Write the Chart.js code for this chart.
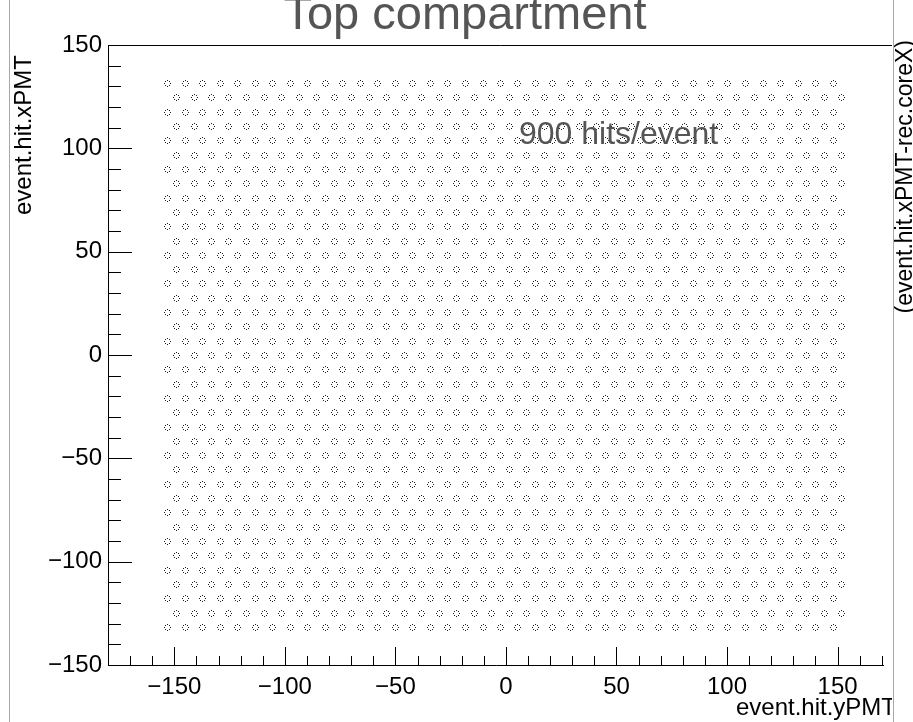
<!DOCTYPE html>
<html>
<head>
<meta charset="utf-8">
<script src="https://cdn.jsdelivr.net/npm/chart.js@4/dist/chart.umd.min.js"></script>
<style>
  html, body { margin: 0; padding: 0; background: #fff; }
  #wrap { width: 913px; height: 722px; position: relative; }
</style>
</head>
<body>
<div id="wrap"><canvas id="pmtChart"></canvas></div>
<script>
// PMT rows (event.hit.xPMT), top to bottom; even rows use columnsA, odd rows columnsB
const rowX = [131.6, 124.7, 117.8, 110.9, 103.9, 97.0, 90.1, 83.1, 76.2, 69.3,
  62.4, 55.4, 48.5, 41.6, 34.6, 27.7, 20.8, 13.9, 6.9, 0.0,
  -6.9, -13.9, -20.8, -27.7, -34.6, -41.6, -48.5, -55.4, -62.4, -69.3,
  -76.2, -83.1, -90.1, -97.0, -103.9, -110.9, -117.8, -124.7, -131.6];

// PMT columns (event.hit.yPMT)
const columnsA = [-153.2, -145.3, -137.4, -129.4, -121.5, -113.6, -105.7, -97.8, -89.8, -81.9,
  -74.0, -66.1, -58.2, -50.2, -42.3, -34.4, -26.5, -18.6, -10.6, -2.7,
  5.2, 13.1, 21.0, 29.0, 36.9, 44.8, 52.7, 60.6, 68.6, 76.5,
  84.4, 92.3, 100.2, 108.2, 116.1, 124.0, 131.9, 139.8, 147.8];
const columnsB = [-149.2, -141.3, -133.4, -125.5, -117.5, -109.6, -101.7, -93.8, -85.9, -77.9,
  -70.0, -62.1, -54.2, -46.3, -38.3, -30.4, -22.5, -14.6, -6.7, 1.3,
  9.2, 17.1, 25.0, 32.9, 40.9, 48.8, 56.7, 64.6, 72.5, 80.5,
  88.4, 96.3, 104.2, 112.1, 120.1, 128.0, 135.9, 143.8, 151.7];

const xTicks = [-150, -100, -50, 0, 50, 100, 150];
const yTicks = [-150, -100, -50, 0, 50, 100, 150];

const titleText = 'Top compartment';
const hitsText = '900 hits/event';

const points = rowX.flatMap((x, i) =>
  (i % 2 === 0 ? columnsA : columnsB).map(y => ({x: y, y: x})));

const fmt = (v) => v < 0 ? '\u2212' + Math.abs(v) : String(v);
const FONT = '"Liberation Sans", Arial, Helvetica, sans-serif';

// ring of single pixels drawn around each point, snapped to the pixel grid
const ringOffsets = [[0, -3], [-2, -2], [2, -2], [-3, 0], [3, 0], [-2, 2], [2, 2], [0, 3]];

const pixelRings = {
  id: 'pixelRings',
  afterDatasetsDraw(chart) {
    const ctx = chart.ctx;
    const a = chart.chartArea;
    ctx.save();
    ctx.fillStyle = '#1e1e1e';
    chart.getDatasetMeta(0).data.forEach(el => {
      const cx = Math.round(el.x);
      const cy = Math.round(el.y);
      if (cx < a.left || cx > a.right || cy < a.top || cy > a.bottom) return;
      ringOffsets.forEach(([dx, dy]) => ctx.fillRect(cx + dx, cy + dy, 1, 1));
    });
    ctx.restore();
  }
};

const rootFrame = {
  id: 'rootFrame',
  afterDraw(chart) {
    const ctx = chart.ctx;
    const a = chart.chartArea;
    const xs = chart.scales.x;
    const ys = chart.scales.y;
    ctx.save();

    // pad border lines
    ctx.strokeStyle = '#a8a8a8';
    ctx.lineWidth = 1;
    ctx.beginPath();
    ctx.moveTo(9.5, 0); ctx.lineTo(9.5, 722);
    ctx.moveTo(893.5, 0); ctx.lineTo(893.5, 722);
    ctx.stroke();

    // frame
    ctx.strokeStyle = '#000';
    ctx.beginPath();
    ctx.moveTo(a.left + 0.5, a.top + 0.5); ctx.lineTo(892, a.top + 0.5);
    ctx.moveTo(a.left + 0.5, a.top); ctx.lineTo(a.left + 0.5, a.bottom + 0.5);
    ctx.lineTo(a.right, a.bottom + 0.5);
    ctx.stroke();

    // tick marks, minor every 10
    ctx.beginPath();
    for (let v = -180; v <= 170; v += 10) {
      const px = Math.round(xs.getPixelForValue(v)) + 0.5;
      const len = v % 50 === 0 ? 18 : 9;
      ctx.moveTo(px, a.bottom);
      ctx.lineTo(px, a.bottom - len);
    }
    for (let v = -150; v <= 150; v += 10) {
      const py = Math.round(ys.getPixelForValue(v)) + 0.5;
      const len = v % 50 === 0 ? 24 : 13;
      ctx.moveTo(a.left, py);
      ctx.lineTo(a.left + len, py);
    }
    ctx.stroke();

    // titles
    ctx.fillStyle = '#555';
    ctx.font = '47px ' + FONT;
    ctx.textAlign = 'center';
    ctx.textBaseline = 'alphabetic';
    ctx.fillText(titleText, 465, 29);

    ctx.font = '32px ' + FONT;
    ctx.textAlign = 'left';
    ctx.fillText(hitsText, 519, 144);

    ctx.fillStyle = '#000';
    ctx.font = '24px ' + FONT;

    ctx.save();
    ctx.translate(31, 55);
    ctx.rotate(-Math.PI / 2);
    ctx.textAlign = 'right';
    ctx.fillText('event.hit.xPMT', 0, 0);
    ctx.restore();

    ctx.save();
    ctx.beginPath();
    ctx.rect(0, 0, 892, 722);
    ctx.clip();
    ctx.textAlign = 'right';
    ctx.fillText('event.hit.yPMT', 896, 715);
    ctx.restore();

    ctx.save();
    ctx.translate(912, 40);
    ctx.rotate(-Math.PI / 2);
    ctx.textAlign = 'right';
    ctx.font = '23px ' + FONT;
    ctx.fillText('(event.hit.xPMT-rec.coreX)', 0, 0);
    ctx.restore();

    ctx.restore();
  }
};

new Chart(document.getElementById('pmtChart'), {
  type: 'scatter',
  data: {
    datasets: [{
      data: points,
      pointRadius: 0,
      pointHoverRadius: 0
    }]
  },
  options: {
    responsive: true,
    maintainAspectRatio: false,
    animation: false,
    events: [],
    layout: {padding: {top: 45, right: 29, left: 0, bottom: 0}},
    plugins: {legend: {display: false}, tooltip: {enabled: false}},
    scales: {
      x: {
        type: 'linear',
        min: -180,
        max: 171,
        afterFit: (s) => { s.height = 57; },
        afterBuildTicks: (s) => { s.ticks = xTicks.map(v => ({value: v})); },
        grid: {display: false, drawTicks: false},
        border: {display: false},
        ticks: {
          autoSkip: false,
          maxRotation: 0,
          padding: 8,
          color: '#000',
          font: {family: FONT, size: 24},
          callback: fmt
        }
      },
      y: {
        type: 'linear',
        min: -150,
        max: 150,
        afterFit: (s) => { s.width = 108; },
        afterBuildTicks: (s) => { s.ticks = yTicks.map(v => ({value: v})); },
        grid: {display: false, drawTicks: false},
        border: {display: false},
        ticks: {
          autoSkip: false,
          padding: 6,
          color: '#000',
          font: {family: FONT, size: 24},
          callback: fmt
        }
      }
    }
  },
  plugins: [pixelRings, rootFrame]
});
</script>
</body>
</html>
